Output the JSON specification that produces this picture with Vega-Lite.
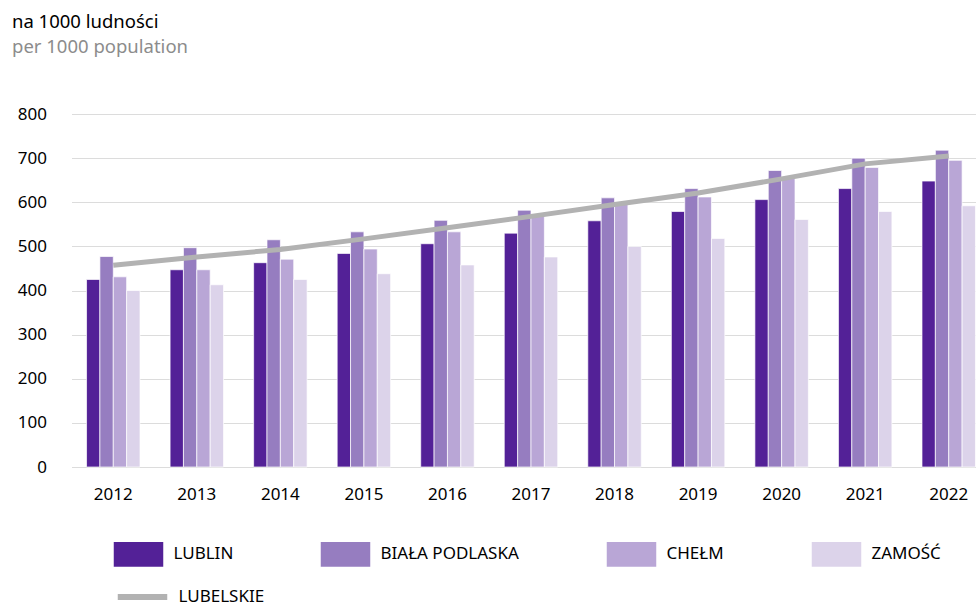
{
  "$schema": "https://vega.github.io/schema/vega-lite/v6.json",
  "autosize": {"type": "none"},
  "padding": {"left": 71.5, "top": 114, "right": 0, "bottom": 139.5},
  "width": 904.5,
  "height": 353,
  "background": "white",
  "title": {
    "text": "na 1000 ludności",
    "subtitle": "per 1000 population",
    "anchor": "start",
    "frame": "group",
    "dx": -59.5,
    "offset": 49,
    "font": "Noto Sans",
    "fontSize": 18.5,
    "fontWeight": "normal",
    "color": "#000000",
    "subtitleFont": "Noto Sans",
    "subtitleFontSize": 18.5,
    "subtitleColor": "#8c8c8c",
    "subtitlePadding": 6
  },
  "config": {
    "view": {"stroke": null},
    "font": "Noto Sans",
    "axis": {"labelFont": "Noto Sans", "labelColor": "#000000", "labelFontSize": 17}
  },
  "datasets": {
    "bars": [
      {"rok": "2012", "miasto": "LUBLIN", "v": 425},
      {"rok": "2012", "miasto": "BIAŁA PODLASKA", "v": 477},
      {"rok": "2012", "miasto": "CHEŁM", "v": 431},
      {"rok": "2012", "miasto": "ZAMOŚĆ", "v": 400},
      {"rok": "2013", "miasto": "LUBLIN", "v": 447},
      {"rok": "2013", "miasto": "BIAŁA PODLASKA", "v": 497},
      {"rok": "2013", "miasto": "CHEŁM", "v": 447},
      {"rok": "2013", "miasto": "ZAMOŚĆ", "v": 413},
      {"rok": "2014", "miasto": "LUBLIN", "v": 463},
      {"rok": "2014", "miasto": "BIAŁA PODLASKA", "v": 515},
      {"rok": "2014", "miasto": "CHEŁM", "v": 471},
      {"rok": "2014", "miasto": "ZAMOŚĆ", "v": 425},
      {"rok": "2015", "miasto": "LUBLIN", "v": 484},
      {"rok": "2015", "miasto": "BIAŁA PODLASKA", "v": 533},
      {"rok": "2015", "miasto": "CHEŁM", "v": 494},
      {"rok": "2015", "miasto": "ZAMOŚĆ", "v": 438},
      {"rok": "2016", "miasto": "LUBLIN", "v": 506},
      {"rok": "2016", "miasto": "BIAŁA PODLASKA", "v": 559},
      {"rok": "2016", "miasto": "CHEŁM", "v": 533},
      {"rok": "2016", "miasto": "ZAMOŚĆ", "v": 458},
      {"rok": "2017", "miasto": "LUBLIN", "v": 530},
      {"rok": "2017", "miasto": "BIAŁA PODLASKA", "v": 582},
      {"rok": "2017", "miasto": "CHEŁM", "v": 570},
      {"rok": "2017", "miasto": "ZAMOŚĆ", "v": 476},
      {"rok": "2018", "miasto": "LUBLIN", "v": 558},
      {"rok": "2018", "miasto": "BIAŁA PODLASKA", "v": 610},
      {"rok": "2018", "miasto": "CHEŁM", "v": 598},
      {"rok": "2018", "miasto": "ZAMOŚĆ", "v": 500},
      {"rok": "2019", "miasto": "LUBLIN", "v": 579},
      {"rok": "2019", "miasto": "BIAŁA PODLASKA", "v": 631},
      {"rok": "2019", "miasto": "CHEŁM", "v": 612},
      {"rok": "2019", "miasto": "ZAMOŚĆ", "v": 518},
      {"rok": "2020", "miasto": "LUBLIN", "v": 606},
      {"rok": "2020", "miasto": "BIAŁA PODLASKA", "v": 672},
      {"rok": "2020", "miasto": "CHEŁM", "v": 655},
      {"rok": "2020", "miasto": "ZAMOŚĆ", "v": 561},
      {"rok": "2021", "miasto": "LUBLIN", "v": 631},
      {"rok": "2021", "miasto": "BIAŁA PODLASKA", "v": 700},
      {"rok": "2021", "miasto": "CHEŁM", "v": 679},
      {"rok": "2021", "miasto": "ZAMOŚĆ", "v": 579},
      {"rok": "2022", "miasto": "LUBLIN", "v": 648},
      {"rok": "2022", "miasto": "BIAŁA PODLASKA", "v": 718},
      {"rok": "2022", "miasto": "CHEŁM", "v": 695},
      {"rok": "2022", "miasto": "ZAMOŚĆ", "v": 592}
    ],
    "line": [
      {"rok": "2012", "v": 457},
      {"rok": "2013", "v": 476},
      {"rok": "2014", "v": 493},
      {"rok": "2015", "v": 517},
      {"rok": "2016", "v": 542},
      {"rok": "2017", "v": 568},
      {"rok": "2018", "v": 595},
      {"rok": "2019", "v": 621},
      {"rok": "2020", "v": 653},
      {"rok": "2021", "v": 687},
      {"rok": "2022", "v": 705}
    ]
  },
  "encoding": {
    "x": {
      "field": "rok",
      "type": "nominal",
      "scale": {"range": [0, 919], "paddingInner": 0.36, "paddingOuter": 0.18},
      "axis": {"title": null, "labelAngle": 0, "ticks": false, "domain": false, "labelPadding": 19, "labelFontSize": 17}
    },
    "y": {
      "field": "v",
      "type": "quantitative",
      "scale": {"domain": [0, 800]},
      "axis": {"title": null, "values": [0, 100, 200, 300, 400, 500, 600, 700, 800], "ticks": false, "domain": false, "gridColor": "#dcdcdc", "gridWidth": 1, "labelPadding": 25, "labelFontSize": 17}
    }
  },
  "layer": [
    {
      "data": {"name": "bars"},
      "mark": {"type": "bar", "stroke": "white", "strokeWidth": 0.7},
      "encoding": {
        "xOffset": {"field": "miasto", "type": "nominal", "sort": ["LUBLIN", "BIAŁA PODLASKA", "CHEŁM", "ZAMOŚĆ"], "scale": {"paddingInner": 0, "paddingOuter": 0}},
        "fill": {
          "field": "miasto",
          "type": "nominal",
          "sort": ["LUBLIN", "BIAŁA PODLASKA", "CHEŁM", "ZAMOŚĆ"],
          "scale": {"domain": ["LUBLIN", "BIAŁA PODLASKA", "CHEŁM", "ZAMOŚĆ"], "range": ["#532197", "#967dc0", "#b9a6d6", "#dcd3ea"]},
          "legend": {
            "title": null,
            "orient": "none",
            "legendX": 42,
            "legendY": 415,
            "direction": "horizontal",
            "columns": 4,
            "gridAlign": "each",
            "columnPadding": 87,
            "padding": 0,
            "symbolType": "M-1,-0.5H1V0.5H-1Z",
            "symbolSize": 2450,
            "symbolStrokeWidth": 0,
            "symbolOpacity": 1,
            "labelOffset": 10,
            "labelFont": "Noto Sans",
            "labelFontSize": 17,
            "labelColor": "#000000",
            "labelLimit": 300
          }
        }
      }
    },
    {
      "data": {"name": "line"},
      "mark": {"type": "line", "strokeWidth": 5, "strokeCap": "butt"},
      "encoding": {
        "stroke": {
          "datum": "LUBELSKIE",
          "type": "nominal",
          "scale": {"domain": ["LUBELSKIE"], "range": ["#b2b2b2"]},
          "legend": {
            "title": null,
            "orient": "none",
            "legendX": 43,
            "legendY": 455,
            "padding": 0,
            "symbolType": "stroke",
            "symbolSize": 2450,
            "symbolStrokeWidth": 6,
            "labelOffset": 8,
            "labelFont": "Noto Sans",
            "labelFontSize": 17,
            "labelColor": "#000000",
            "labelLimit": 300
          }
        }
      }
    }
  ]
}
